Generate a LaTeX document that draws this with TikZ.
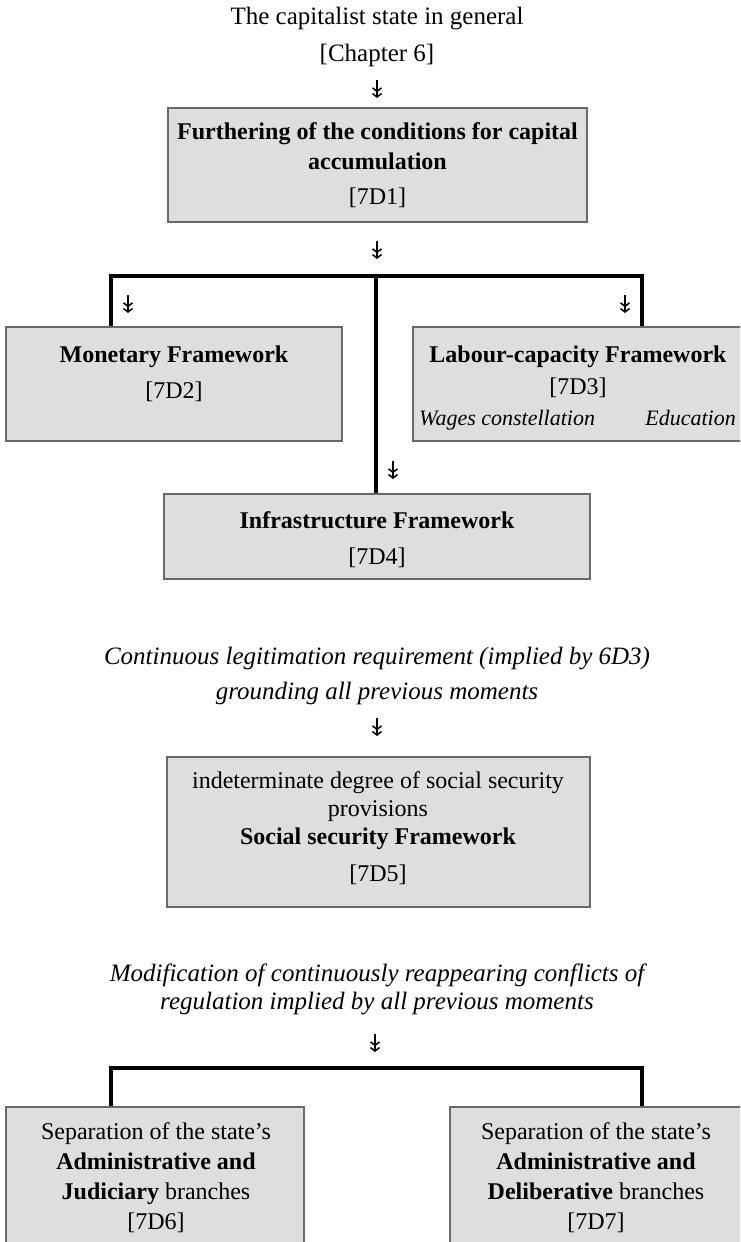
\documentclass[tikz,border=0pt]{standalone}
\usepackage{fontspec}
\setmainfont{Liberation Serif}
\usetikzlibrary{arrows.meta}
\definecolor{boxfill}{RGB}{222,222,222}
\definecolor{boxline}{RGB}{105,105,105}
\begin{document}
\begin{tikzpicture}[x=1pt,y=-1pt,
  box/.style={draw=boxline, line width=1.6pt, fill=boxfill, inner sep=0pt},
  txt/.style={align=center, inner sep=0pt, font=\fontsize{24}{30}\selectfont},
  itx/.style={align=center, inner sep=0pt, font=\fontsize{25}{28}\selectfont\itshape},
  conn/.style={line width=3.2pt, line join=miter},
  dar/.style={line width=1.5pt, -{Straight Barb[length=3.5pt,width=9pt,sep=0.5pt]Straight Barb[length=3.5pt,width=9pt]}}
]
\clip (0,0) rectangle (740,1242);
\fill[white] (0,0) rectangle (740,1242);

% top text
\node[txt, font=\fontsize{25}{30}\selectfont] (t0) at (377,36.5) {The capitalist state in general\\[7pt][Chapter 6]};
\coordinate (a0s) at (377,80);
\coordinate (a0e) at (377,98);
\draw[dar] (a0s) -- (a0e);

% box 1
\node[box, minimum width=419, minimum height=114] (b1) at (377.5,165) {};
\node[txt] (t1) at (377.5,165.5) {\textbf{Furthering of the conditions for capital}\\\textbf{accumulation}\\[5pt][7D1]};
\coordinate (a1s) at (377,241);
\coordinate (a1e) at (377,259);
\draw[dar] (a1s) -- (a1e);

% level 2 boxes
\node[box, minimum width=336, minimum height=114] (b2) at (174,384) {};
\node[txt] (t2) at (174,374) {\textbf{Monetary Framework}\\[6pt][7D2]};
\node[box, minimum width=347, minimum height=114] (b3) at (586.5,384) {};
\node[txt] (t3) at (578,372) {\textbf{Labour-capacity Framework}\\[2pt][7D3]};
\node[txt, font=\fontsize{22}{26}\selectfont\itshape, anchor=base west] (t3a) at (419,425) {Wages constellation};
\node[txt, font=\fontsize{22}{26}\selectfont\itshape, anchor=base east] (t3b) at (736,425) {Education};

% box 4
\node[box, minimum width=426, minimum height=85] (b4) at (377,536.5) {};
\node[txt] (t4) at (377,540) {\textbf{Infrastructure Framework}\\[6pt][7D4]};

% tree connectors
\coordinate (jL) at (111,276);
\coordinate (jR) at (642,276);
\coordinate (jC) at (376,276);
\draw[conn] (b2.north -| jL) -- (jL) -- (jR) -- (b3.north -| jR);
\draw[conn] (jC) -- (b4.north -| jC);
\coordinate (aLs) at (128,295);
\coordinate (aLe) at (128,313);
\draw[dar] (aLs) -- (aLe);
\coordinate (aRs) at (625,295);
\coordinate (aRe) at (625,313);
\draw[dar] (aRs) -- (aRe);
\coordinate (aCs) at (393,461);
\coordinate (aCe) at (393,479);
\draw[dar] (aCs) -- (aCe);

% legitimation
\node[itx] (i1) at (377,675.5) {Continuous legitimation requirement (implied by 6D3)\\[7pt]grounding all previous moments};
\coordinate (a4s) at (377,718);
\coordinate (a4e) at (377,736);
\draw[dar] (a4s) -- (a4e);

% box 5
\node[box, minimum width=423, minimum height=150] (b5) at (378.5,832) {};
\node[txt, font=\fontsize{24}{28}\selectfont] (t5) at (378,828.5) {indeterminate degree of social security\\provisions\\\textbf{Social security Framework}\\[9pt][7D5]};

% modification
\node[itx] (i2) at (377,989) {Modification of continuously reappearing conflicts of\\regulation implied by all previous moments};
\coordinate (a5s) at (375,1034);
\coordinate (a5e) at (375,1052);
\draw[dar] (a5s) -- (a5e);

% boxes 6, 7
\node[box, minimum width=298, minimum height=160] (b6) at (155,1187) {};
\node[txt] (t6) at (156,1177.5) {Separation of the state's\\\textbf{Administrative and}\\\textbf{Judiciary} branches\\{}[7D6]};
\node[box, minimum width=310, minimum height=160] (b7) at (605,1187) {};
\node[txt] (t7) at (596,1177.5) {Separation of the state's\\\textbf{Administrative and}\\\textbf{Deliberative} branches\\{}[7D7]};

\coordinate (kL) at (111,1068);
\coordinate (kR) at (642,1068);
\draw[conn] (b6.north -| kL) -- (kL) -- (kR) -- (b7.north -| kR);
\end{tikzpicture}
\end{document}
